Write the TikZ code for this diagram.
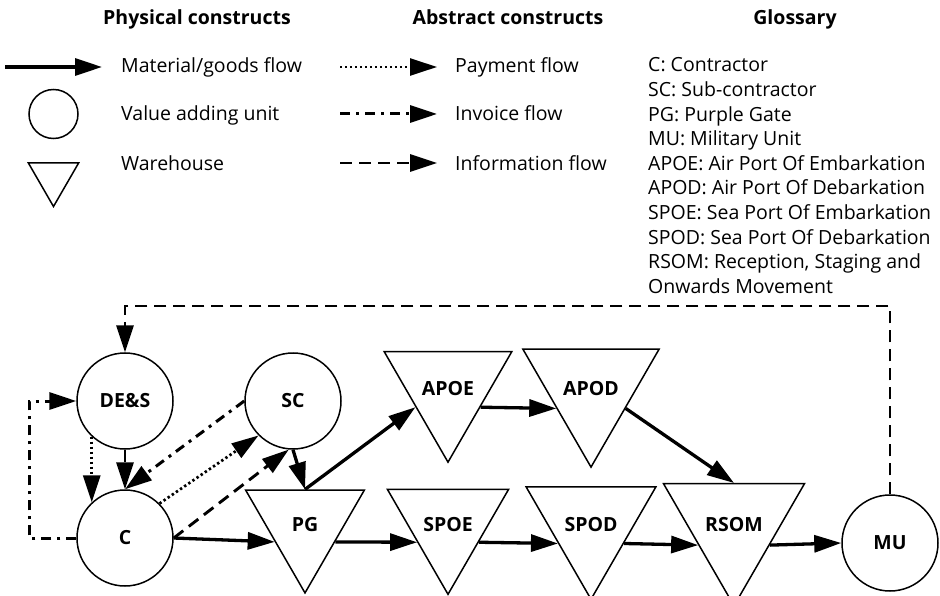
\documentclass[tikz,border=0pt]{standalone}
\usepackage{fontspec}
\setmainfont{Open Sans}
\usepackage{tikz}
\usetikzlibrary{positioning,arrows.meta,shapes.geometric}

\begin{document}
\begin{tikzpicture}[
  x=1pt, y=-1pt,
  every node/.style={font=\fontsize{19.5}{24.6}\selectfont},
  head/.style={anchor=base, font=\fontsize{19.5}{24.6}\selectfont\bfseries},
  lbl/.style={anchor=base west, inner sep=0pt},
  unit/.style={circle, draw, line width=1.5pt, minimum size=96pt, inner sep=0pt, font=\fontsize{19.5}{24.6}\selectfont\bfseries},
  store/.style={regular polygon, regular polygon sides=3, shape border rotate=180, draw, line width=1.5pt, minimum size=137pt, inner sep=0pt, font=\fontsize{19.5}{24.6}\selectfont\bfseries},
  flow/.style={line width=3.3pt, -{Triangle[length=27pt,width=17pt]}},
  pay/.style={flow, line width=2.7pt, dash pattern=on 2.4pt off 2.6pt},
  invoice/.style={flow, line width=3pt, dash pattern=on 10pt off 6pt on 3pt off 6pt},
  info/.style={flow, line width=2.9pt, dash pattern=on 12pt off 7pt}
]
\useasboundingbox (0,0) rectangle (940,596);
% Headings
\node[head] (hphys) at (197,25) {Physical constructs};
\node[head] (habs) at (508,25) {Abstract constructs};
\node[head] (hgloss) at (795,25) {Glossary};
% Legend: physical constructs
\coordinate (lm0) at (5,67);
\coordinate (lm1) at (102,67);
\draw[flow] (lm0) -- (lm1);
\node[lbl] (tmat) at (121,73) {Material/goods flow};
\node[circle, draw, line width=1.5pt, minimum size=49pt, inner sep=0pt] (lunit) at (53.5,114) {};
\node[lbl] (tunit) at (121,121) {Value adding unit};
\node[regular polygon, regular polygon sides=3, shape border rotate=180, draw, line width=1.5pt, minimum size=58pt, inner sep=0pt] (lstore) at (53.5,177.5) {};
\node[lbl] (tstore) at (121,171) {Warehouse};
% Legend: abstract constructs
\coordinate (lp0) at (340,67);
\coordinate (lp1) at (437,67);
\coordinate (li0) at (340,114);
\coordinate (li1) at (437,114);
\coordinate (ln0) at (340,163);
\coordinate (ln1) at (437,163);
\draw[pay] (lp0) -- (lp1);
\draw[invoice] (li0) -- (li1);
\draw[info] (ln0) -- (ln1);
\node[lbl] (tpay) at (455,73) {Payment flow};
\node[lbl] (tinv) at (455,121) {Invoice flow};
\node[lbl] (tinf) at (455,171) {Information flow};
% Glossary
\foreach \txt [count=\i] in {C: Contractor, SC: Sub-contractor, PG: Purple Gate, MU: Military Unit,
    APOE: Air Port Of Embarkation, APOD: Air Port Of Debarkation, SPOE: Sea Port Of Embarkation,
    SPOD: Sea Port Of Debarkation, {RSOM: Reception, Staging and}, Onwards Movement}
  \node[lbl] (g\i) at (648,{72+24.6*(\i-1)}) {\txt};
% Value adding units
\node[unit] (DES) at (125,401) {DE\&S};
\node[unit] (SC) at (293,401) {SC};
\node[unit] (C) at (125,538) {C};
\node[unit] (MU) at (890,543) {MU};
% Warehouses
\node[store] (PG) at (305,524.4) {PG};
\node[store] (SPOE) at (448,524.4) {SPOE};
\node[store] (SPOD) at (591,524.4) {SPOD};
\node[store] (RSOM) at (734,524.4) {RSOM};
\node[store] (APOE) at (448,388.4) {APOE};
\node[store] (APOD) at (591,388.4) {APOD};
% Material flow
\draw[flow] (C.east) -- (PG.210);
\draw[flow] (SC.south) -- (PG.north);
\draw[flow] (PG.north) -- (APOE.210);
\draw[flow] (APOE.330) -- (APOD.210);
\draw[flow] (APOD.330) -- (RSOM.north);
\draw[flow] (PG.330) -- (SPOE.210);
\draw[flow] (SPOE.330) -- (SPOD.210);
\draw[flow] (SPOD.330) -- (RSOM.210);
\draw[flow] (RSOM.330) -- (MU.west);
% Payment, invoice and information flows
\draw[pay] (DES.227) -- (C.133);
\draw[pay] (C.45) -- (SC.225);
\draw[invoice] (SC.west) -- (C.north);
\coordinate (invL) at (29,401);
\draw[invoice] (C.west) -| (invL) -- (DES.west);
\draw[info] (DES.south) -- (C.north);
\draw[info] (C.east) -- (SC.265);
\coordinate (infoTop) at (125,306);
\draw[info] (MU.north) |- (infoTop) -- (DES.north);
\end{tikzpicture}
\end{document}
